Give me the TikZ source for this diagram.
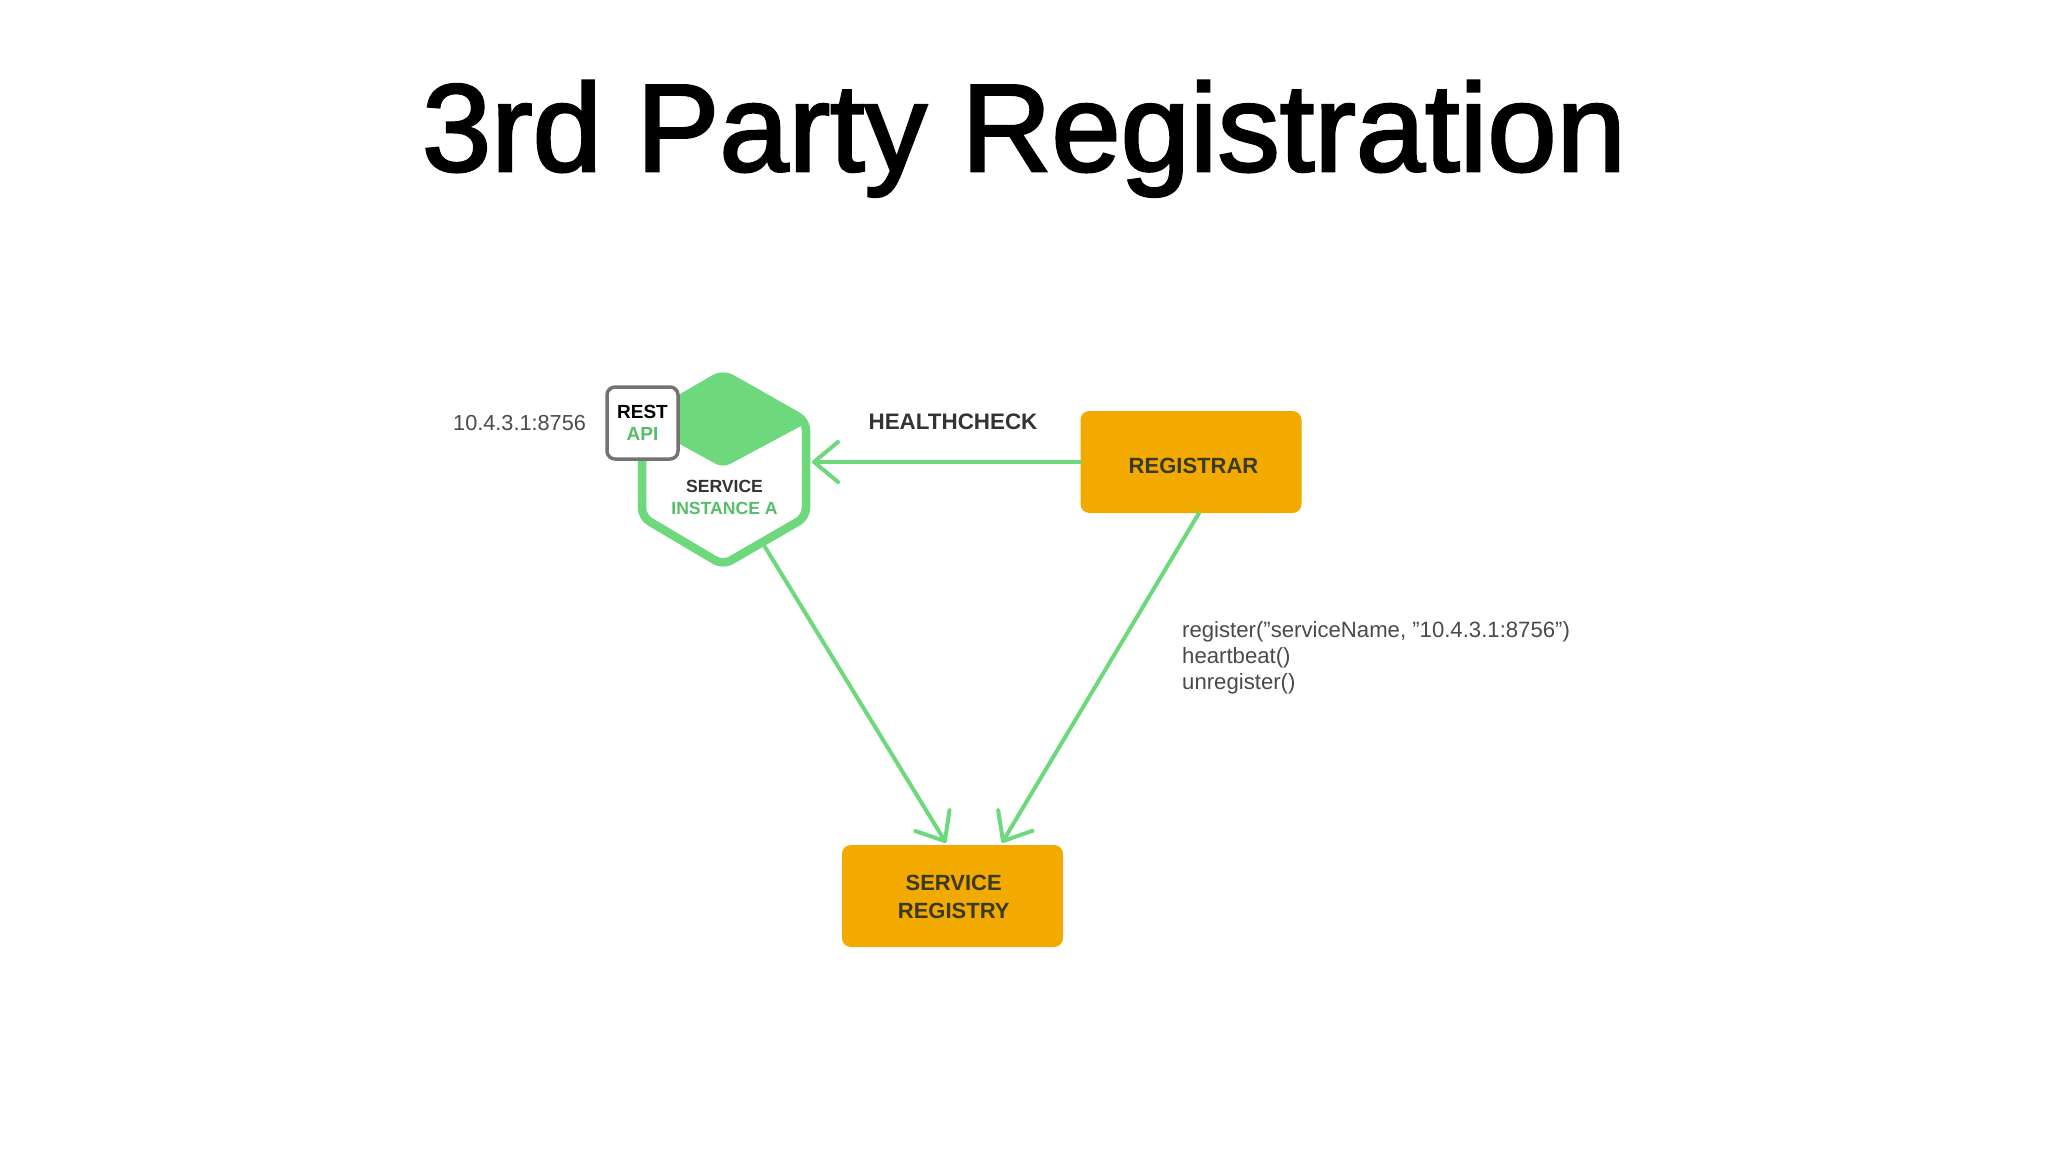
\documentclass[tikz,border=0pt]{standalone}
\usepackage{fontspec}
\setmainfont{Liberation Sans}
\newfontfamily\titlefont[FakeBold=2.1]{Liberation Sans}
\usetikzlibrary{arrows.meta,calc}
\definecolor{grn}{HTML}{6DD87C}
\definecolor{grntxt}{HTML}{55BE68}
\definecolor{orng}{HTML}{F2A900}
\definecolor{inkdark}{HTML}{333333}
\definecolor{inkbox}{HTML}{3A3A22}
\definecolor{inkgray}{HTML}{4A4A4A}
\tikzset{
  orangebox/.style={rectangle,rounded corners=9pt,fill=orng,inner sep=0,minimum width=221pt,minimum height=102pt},
  boxtext/.style={inner sep=0,align=center,text=inkbox,font=\fontsize{22}{28}\selectfont\bfseries},
  conn/.style={draw=grn,line width=4pt,line cap=round,-{Straight Barb[length=24pt,width=40pt,line width=4pt,round]}},
  plain/.style={inner sep=0,text=inkgray,font=\fontsize{21.7}{26}\selectfont,align=left},
  hexline/.style={draw=grn,line width=8.5pt,line join=round,rounded corners=9pt}
}
\begin{document}
\begin{tikzpicture}[x=1pt,y=-1pt]
\useasboundingbox[fill=white] (0,0) rectangle (2048,1152);
\node[inner sep=0,anchor=base,font=\fontsize{124.5}{125}\selectfont\titlefont] (title) at (1024,171) {3rd Party Registration};
% hexagon
\draw[hexline] (723,374) -- (806,421) -- (806,517) -- (723,565) -- (642,517) -- (642,421) -- cycle;
\filldraw[grn,line width=4pt,line join=round,rounded corners=7pt] (723,375) -- (806,421) -- (723,465.5) -- (642,421) -- cycle;
\node[inner sep=0,align=center,font=\fontsize{17.6}{21.5}\selectfont\bfseries] (hex) at (724.5,497.5) {\textcolor{inkdark}{SERVICE}\\\textcolor{grntxt}{INSTANCE A}};
\node[rectangle,rounded corners=8pt,draw=gray!90!black,line width=3.5pt,fill=white,minimum width=71pt,minimum height=72pt,inner sep=0,align=center,font=\fontsize{19}{22}\selectfont\bfseries] (rest) at (642.5,423) {\textcolor{black}{REST}\\\textcolor{grntxt}{API}};
\node[plain,anchor=west] (addr) at (453,423) {10.4.3.1:8756};
\node[orangebox,label={[boxtext,xshift=2.5pt,yshift=-3.5pt]center:REGISTRAR}] (registrar) at (1191,462) {};
\node[orangebox,label={[boxtext,xshift=1.2pt,yshift=-1pt]center:SERVICE\\REGISTRY}] (registry) at (952.5,896) {};
\node[inner sep=0,text=inkdark,font=\fontsize{22.4}{26}\selectfont\bfseries] (hc) at (953,422) {HEALTHCHECK};
\node[plain,anchor=north west,font=\fontsize{22.15}{26}\selectfont] (calls) at (1182,621.5) {register(”serviceName, ”10.4.3.1:8756”)\\heartbeat()\\unregister()};
\coordinate (hexIn) at (812,462);
\coordinate (hexOut) at (765,547);
\coordinate (regStart) at (1199,513);
\draw[conn] (registrar.west) -- (hexIn);
\draw[conn] (hexOut) -- ($(registry.north)+(-6.5,-2)$);
\draw[conn] (regStart) -- ($(registry.north)+(49.5,-2)$);
\end{tikzpicture}
\end{document}
